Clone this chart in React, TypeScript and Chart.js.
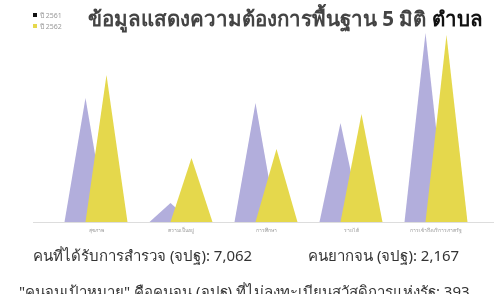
import React, { useEffect, useRef } from "react";
import { Chart, registerables } from "chart.js";

Chart.register(...registerables);

const categories = ["สุขภาพ", "ความเป็นอยู่", "การศึกษา", "รายได้", "การเข้าถึงบริการภาครัฐ"];
const series2561 = [124, 19, 119, 99, 189];
const series2562 = [147, 64, 73, 108, 187];
const legendLabels = ["ปี 2561", "ปี 2562"];
const titleText = "ข้อมูลแสดงความต้องการพื้นฐาน 5 มิติ";
const titleTail = "ตำบล";
const surveyed = "คนที่ได้รับการสำรวจ (จปฐ): 7,062";
const poor = "คนยากจน (จปฐ): 2,167";
const targetLine = "\"คนจนเป้าหมาย\" คือคนจน (จปฐ) ที่ไม่ลงทะเบียนสวัสดิการแห่งรัฐ: 393";

const PURPLE = "rgb(178,174,220)";
const YELLOW = "rgb(229,216,76)";
const FONT = "'Noto Sans', 'DejaVu Sans', sans-serif";

const trianglePlugin = {
  id: "triangles",
  afterDatasetsDraw(chart: any) {
    const ctx = chart.ctx;
    chart.data.datasets.forEach((ds: any, di: number) => {
      const meta = chart.getDatasetMeta(di);
      ctx.save();
      ctx.fillStyle = ds.triColor;
      meta.data.forEach((el: any) => {
        const { x, y, base, width } = el.getProps(["x", "y", "base", "width"], true);
        ctx.beginPath();
        ctx.moveTo(x - width, base);
        ctx.lineTo(x, y);
        ctx.lineTo(x + width, base);
        ctx.closePath();
        ctx.fill();
      });
      ctx.restore();
    });
  },
  afterDraw(chart: any) {
    const ctx = chart.ctx;
    const xs = chart.scales.x;
    const baseY = chart.chartArea.bottom;
    ctx.save();
    ctx.strokeStyle = "#dddddd";
    ctx.lineWidth = 1;
    ctx.beginPath();
    ctx.moveTo(33, Math.round(baseY) + 0.5);
    ctx.lineTo(chart.width, Math.round(baseY) + 0.5);
    ctx.stroke();
    ctx.fillStyle = "#999999";
    ctx.font = `5px ${FONT}`;
    ctx.textAlign = "center";
    ctx.textBaseline = "middle";
    categories.forEach((c, i) => {
      ctx.fillText(c, xs.getPixelForValue(i), baseY + 9);
    });
    ctx.restore();
  },
};

export default function App() {
  const ref = useRef<HTMLCanvasElement>(null);
  useEffect(() => {
    document.body.style.margin = "0";
    const chart = new Chart(ref.current!, {
      type: "bar",
      data: {
        labels: categories,
        datasets: [
          { label: legendLabels[0], data: series2561, backgroundColor: "rgba(0,0,0,0)", triColor: PURPLE } as any,
          { label: legendLabels[1], data: series2562, backgroundColor: "rgba(0,0,0,0)", triColor: YELLOW } as any,
        ],
      },
      options: {
        responsive: false,
        maintainAspectRatio: false,
        animation: false,
        layout: { padding: { left: 53.5, right: 15.5, top: 32, bottom: 72 } },
        datasets: { bar: { categoryPercentage: 0.494, barPercentage: 1 } },
        plugins: { legend: { display: false }, tooltip: { enabled: false }, title: { display: false } },
        scales: {
          x: { display: false },
          y: { display: false, min: 0, max: 190 },
        },
      },
      plugins: [trianglePlugin],
    });
    return () => chart.destroy();
  }, []);

  const abs = (s: React.CSSProperties): React.CSSProperties => ({ position: "absolute", whiteSpace: "nowrap", fontFamily: FONT, ...s });

  return (
    <div style={{ position: "relative", width: 494, height: 294, overflow: "hidden", background: "#fff" }}>
      <canvas ref={ref} width={494} height={294} style={{ position: "absolute", left: 0, top: 0 }} />
      <div style={abs({ left: 33, top: 13, width: 4, height: 4, background: "#111" })} />
      <div style={abs({ left: 40, top: 11, fontSize: 7, color: "#999", lineHeight: "9px" })}>{legendLabels[0]}</div>
      <div style={abs({ left: 33, top: 24, width: 4, height: 4, background: YELLOW })} />
      <div style={abs({ left: 40, top: 22, fontSize: 7, color: "#999", lineHeight: "9px" })}>{legendLabels[1]}</div>
      <div style={abs({ left: 88, top: 5, fontSize: 20.5, fontWeight: "bold", color: "#444", lineHeight: "26px" })}>
        {titleText} <span style={{ color: "#111" }}>{titleTail}</span>
      </div>
      <div style={abs({ left: 33, top: 245, fontSize: 15, color: "#333", lineHeight: "20px" })}>{surveyed}</div>
      <div style={abs({ left: 308, top: 245, fontSize: 15, color: "#333", lineHeight: "20px" })}>{poor}</div>
      <div style={abs({ left: 19, top: 281, fontSize: 15, color: "#333", lineHeight: "20px" })}>{targetLine}</div>
    </div>
  );
}
